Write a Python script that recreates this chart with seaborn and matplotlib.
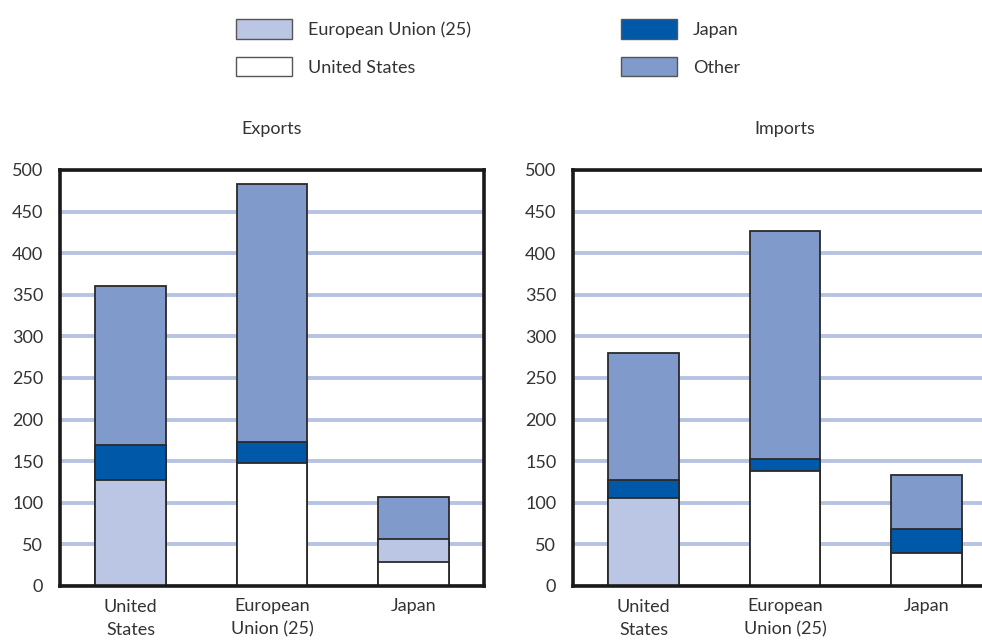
import pandas as pd
import seaborn as sns
import matplotlib.pyplot as plt
import matplotlib.patches as mpatches

# reporting economies (x axis)
reporters = ["United\nStates", "European\nUnion (25)", "Japan"]

# exports: bottom / middle / other segments
exp_bottom_partner = ["European Union (25)", "United States", "United States"]
exp_bottom = [127, 148, 29]
exp_middle_partner = ["Japan", "Japan", "European Union (25)"]
exp_middle = [43, 25, 27]
exp_other = [190, 310, 51]

# imports
imp_bottom_partner = ["European Union (25)", "United States", "United States"]
imp_bottom = [106, 138, 40]
imp_middle_partner = ["Japan", "Japan", "Japan"]
imp_middle = [22, 15, 28]
imp_other = [152, 274, 65]

legend_order = ["European Union (25)", "United States", "Japan", "Other"]
palette = {
    "European Union (25)": "#bac6e3",
    "United States": "#ffffff",
    "Japan": "#0059a8",
    "Other": "#7f9acb",
}

sns.set_style("white")
plt.rcParams["font.family"] = ["Lato", "DejaVu Sans"]
text_color = "#333333"
fs = 13


def build_frame(bottom_partner, bottom, middle_partner, middle, other):
    rows = []
    for i, rep in enumerate(reporters):
        b = bottom[i]
        m = b + middle[i]
        t = m + other[i]
        rows.append({"reporter": rep, "layer": "total", "partner": "Other", "cum": t})
        rows.append({"reporter": rep, "layer": "middle", "partner": middle_partner[i], "cum": m})
        rows.append({"reporter": rep, "layer": "bottom", "partner": bottom_partner[i], "cum": b})
    return pd.DataFrame(rows)


def draw_panel(ax, df, title):
    # draw cumulative heights from the tallest down so each layer covers the one above
    for layer in ["total", "middle", "bottom"]:
        sub = df[df["layer"] == layer]
        sns.barplot(
            data=sub, x="reporter", y="cum", hue="partner", palette=palette,
            order=reporters, dodge=False, width=0.5, legend=False, saturation=1,
            edgecolor="#2a2a2a", linewidth=1.3, ax=ax,
        )
    ax.set_xlim(-0.5, 2.5)
    ax.set_ylim(0, 500)
    ax.set_yticks(range(0, 501, 50))
    ax.yaxis.grid(True, color="#b7c3e2", linewidth=2.8)
    ax.xaxis.grid(False)
    ax.set_axisbelow(True)
    for s in ax.spines.values():
        s.set_visible(True)
        s.set_color("#1a1a1a")
        s.set_linewidth(2.6)
    ax.tick_params(axis="both", length=0, labelsize=fs, colors=text_color)
    ax.tick_params(axis="y", pad=12)
    ax.tick_params(axis="x", pad=9)
    for lbl in ax.get_xticklabels():
        lbl.set_linespacing(1.55)
    ax.set_xlabel("")
    ax.set_ylabel("")
    ax.set_title(title, fontsize=fs, color=text_color, pad=26)


fig = plt.figure(figsize=(9.82, 6.41), dpi=100)
ax1 = fig.add_axes([60 / 982, 55 / 641, 424 / 982, 416 / 641])
ax2 = fig.add_axes([573 / 982, 55 / 641, 424 / 982, 416 / 641])

draw_panel(ax1, build_frame(exp_bottom_partner, exp_bottom, exp_middle_partner, exp_middle, exp_other), "Exports")
draw_panel(ax2, build_frame(imp_bottom_partner, imp_bottom, imp_middle_partner, imp_middle, imp_other), "Imports")

handles = [
    mpatches.Patch(facecolor=palette[k], edgecolor="#555555", linewidth=1.0, label=k)
    for k in legend_order
]
for hs, x0 in [(handles[:2], 236), (handles[2:], 621)]:
    leg = fig.legend(
        handles=hs, loc="upper left", bbox_to_anchor=(x0 / 982, 1 - 19 / 641),
        frameon=False, fontsize=fs, handlelength=3.1, handleheight=1.3,
        handletextpad=0.9, labelspacing=1.0, borderpad=0, borderaxespad=0,
    )
    for t in leg.get_texts():
        t.set_color(text_color)

plt.savefig("out.png", dpi=100)
plt.close()
